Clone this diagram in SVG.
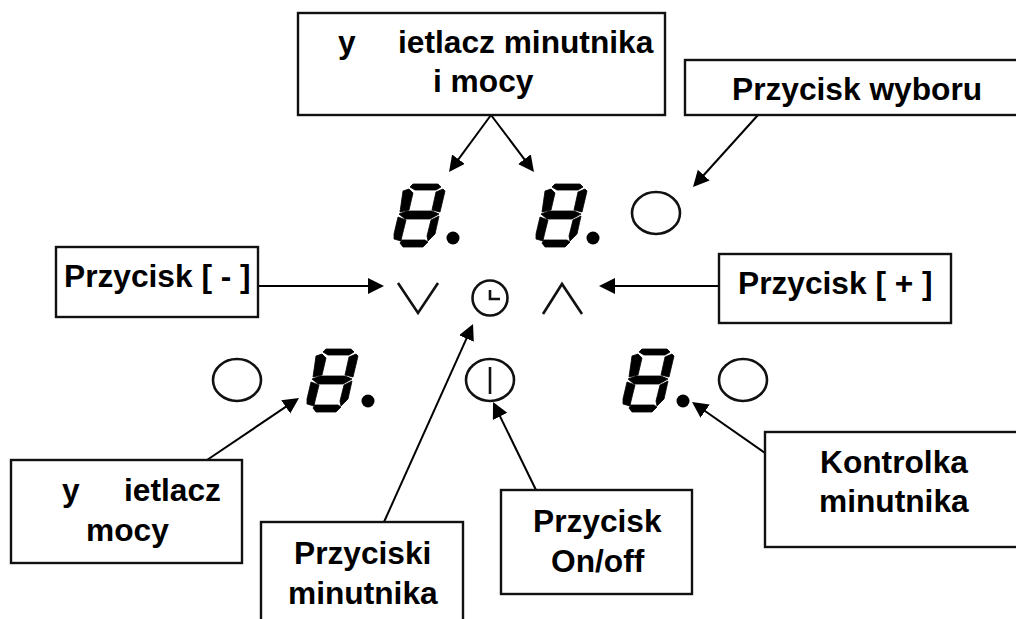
<svg xmlns="http://www.w3.org/2000/svg" width="1016" height="619" viewBox="0 0 1016 619">
<style>
.box{fill:#fff;stroke:#111;stroke-width:2.4}
.lbl{font-family:"Liberation Sans",Arial,sans-serif;font-weight:700;font-size:31.7px;fill:#000}
.con{fill:none;stroke:#000;stroke-width:2;marker-end:url(#arr)}
.ic{fill:none;stroke:#111;stroke-width:2.6}
</style>
<defs>
<marker id="arr" markerUnits="userSpaceOnUse" markerWidth="17" markerHeight="18" refX="12" refY="8" orient="auto"><polygon points="0,0 16,8 0,16" fill="#000"/></marker>
<g id="digit" fill="#000" stroke="#000" stroke-width="0.8" stroke-linejoin="round">
<polygon points="19,1 44,1 47,4 42,7 21,7 16,4"/>
<polygon points="15,6 19,10 15,27 6,29 9,8"/>
<polygon points="49,6 51,8 46,29 38,27 42,9"/>
<polygon points="5,31 13,28 38,28 45,31 36,36 11,36"/>
<polygon points="4,34 12,37 8,53 7,58 0,56 0,51"/>
<polygon points="45,33 41,51 34,58 33,53 37,37"/>
<polygon points="8,57 31,57 34,59 29,64 9,64 6,60"/>
</g>
</defs>
<rect width="1016" height="619" fill="#fff"/>
<g id="panel">
<use href="#digit" x="394" y="183"/><circle cx="453" cy="238" r="6.5"/>
<use href="#digit" x="536" y="183"/><circle cx="593" cy="238" r="6.5"/>
<use href="#digit" x="307" y="348"/><circle cx="368" cy="401" r="6.5"/>
<use href="#digit" x="623" y="348"/><circle cx="683" cy="401" r="6.5"/>
<ellipse class="ic" cx="656" cy="213" rx="24" ry="21"/>
<ellipse class="ic" cx="237" cy="380" rx="24" ry="21"/>
<ellipse class="ic" cx="490" cy="380" rx="24" ry="21"/>
<line class="ic" x1="490" y1="367" x2="490" y2="394"/>
<ellipse class="ic" cx="743" cy="380" rx="24" ry="21"/>
<polyline class="ic" points="398,283 418,313 438,283"/>
<polyline class="ic" points="543,314 562,284 582,314"/>
<circle class="ic" cx="490" cy="298" r="17.5"/>
<polyline class="ic" points="490,290 490,299 500,299"/>
</g>
<g id="connectors">
<path class="con" d="M491,115L451.4,168.8"/>
<path class="con" d="M491,115L531.6,168.8"/>
<path class="con" d="M758,115L695.7,184"/>
<path class="con" d="M258,286H380"/>
<path class="con" d="M719,286H603"/>
<path class="con" d="M207,460L295.7,400.2"/>
<path class="con" d="M384,522L471.4,327.6"/>
<path class="con" d="M536,490L494.8,405.6"/>
<path class="con" d="M765,453L695.3,404.3"/>
</g>
<g id="n-top"><rect class="box" x="298" y="13" width="367" height="102"/><text class="lbl" x="338" y="53">y</text><text class="lbl" x="398" y="53">ietlacz minutnika</text><text class="lbl" x="433" y="92">i mocy</text></g>
<g id="n-select"><rect class="box" x="685" y="60" width="340" height="55"/><text class="lbl" x="732" y="100">Przycisk wyboru</text></g>
<g id="n-minus"><rect class="box" x="56" y="247" width="202" height="70"/><text class="lbl" x="64" y="287">Przycisk [ - ]</text></g>
<g id="n-plus"><rect class="box" x="719" y="254" width="232" height="69"/><text class="lbl" x="738" y="294">Przycisk [ + ]</text></g>
<g id="n-power"><rect class="box" x="11" y="460" width="231" height="103"/><text class="lbl" x="62" y="501">y</text><text class="lbl" x="124" y="501">ietlacz</text><text class="lbl" x="86" y="541">mocy</text></g>
<g id="n-timer"><rect class="box" x="261" y="522" width="202" height="120"/><text class="lbl" x="294" y="564">Przyciski</text><text class="lbl" x="288" y="604">minutnika</text></g>
<g id="n-onoff"><rect class="box" x="501" y="490" width="191" height="104"/><text class="lbl" x="533" y="532">Przycisk</text><text class="lbl" x="551" y="572">On/off</text></g>
<g id="n-led"><rect class="box" x="765" y="432" width="280" height="115"/><text class="lbl" x="820" y="473">Kontrolka</text><text class="lbl" x="819" y="512">minutnika</text></g>
</svg>
